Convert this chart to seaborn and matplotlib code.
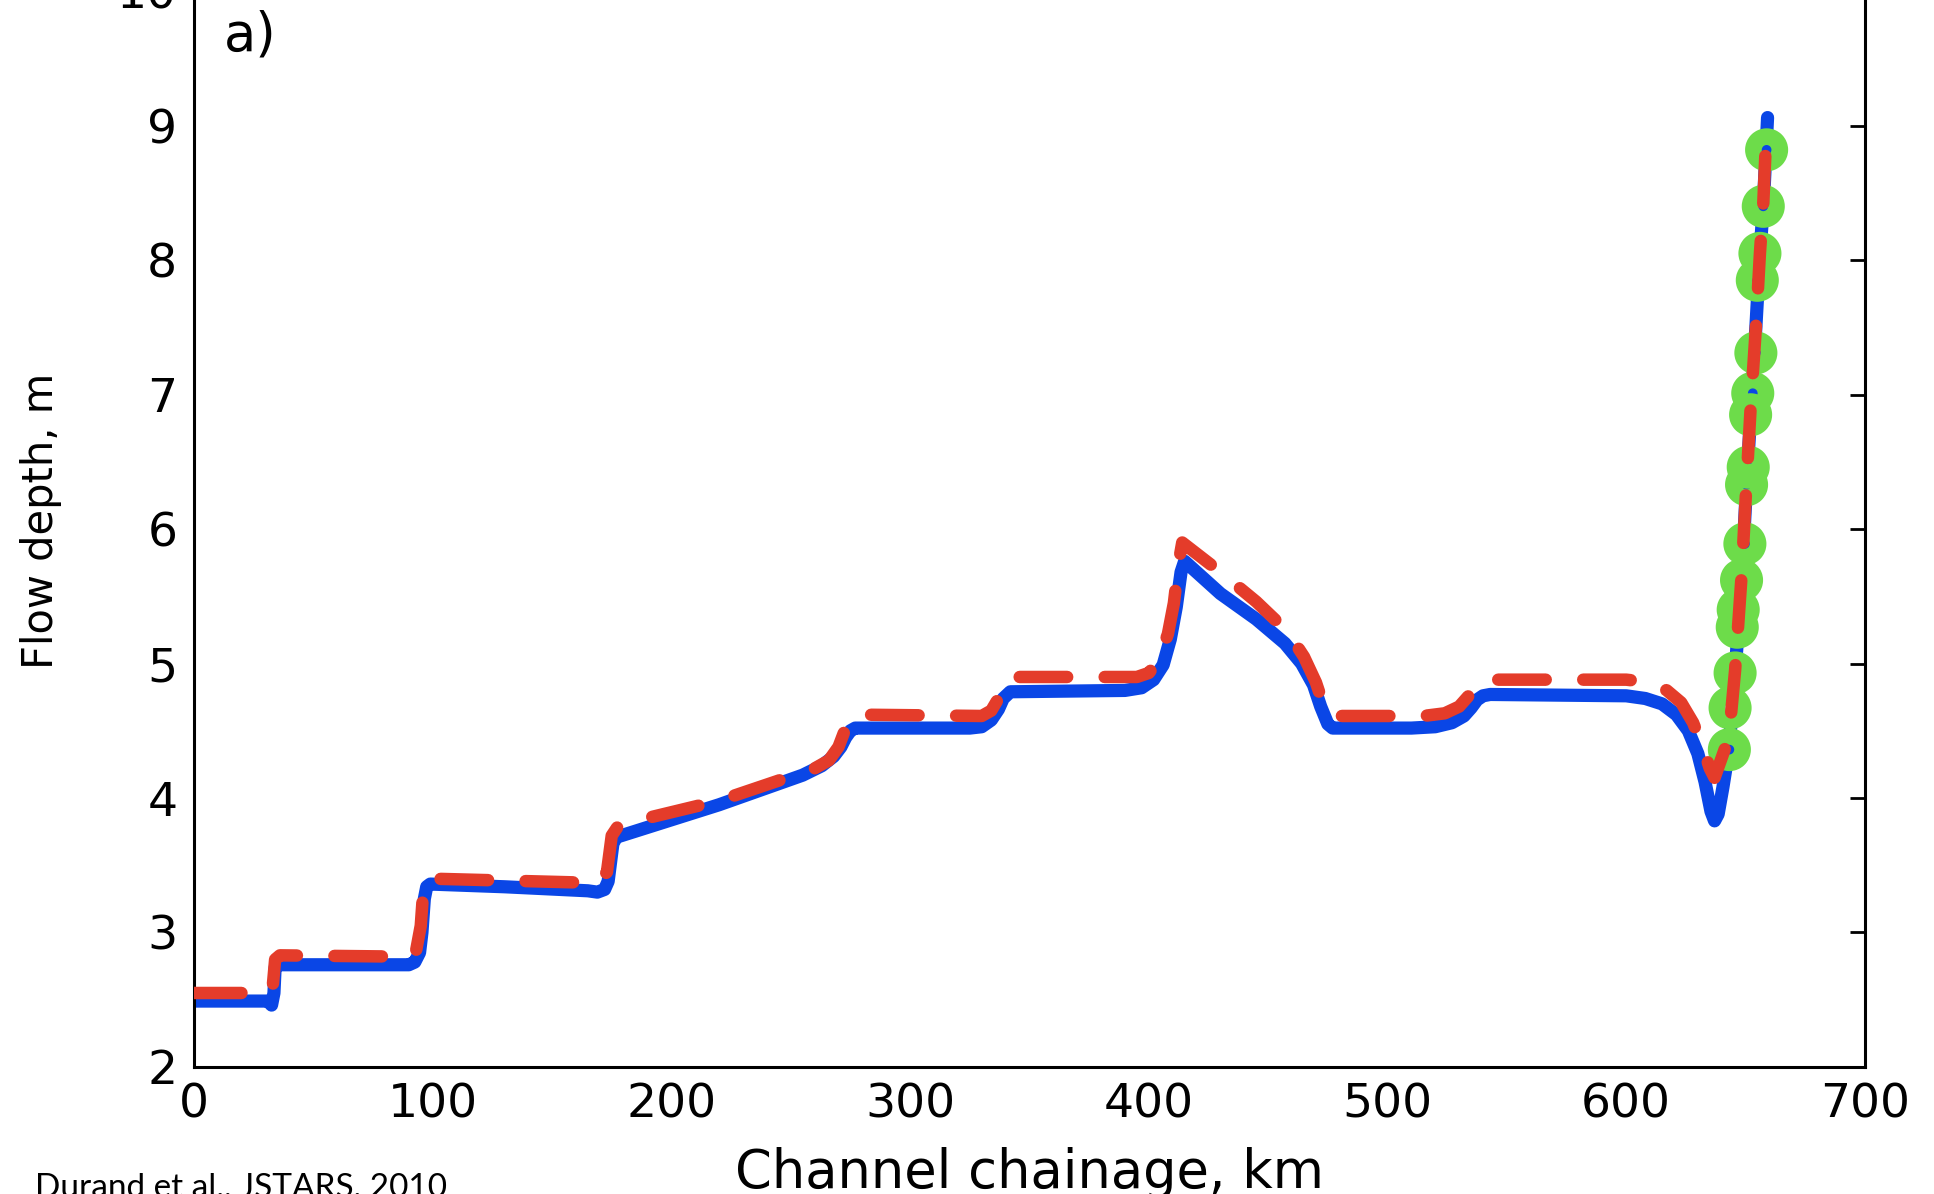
import numpy as np
import pandas as pd
import matplotlib
matplotlib.use("Agg")
import matplotlib.pyplot as plt
import seaborn as sns

# true flow depth profile (blue, solid)
dist_true = [0, 31, 32.5, 33.5, 34, 35, 90, 92.5, 94.5, 95.5, 96.5, 97.5, 99, 130, 165, 169, 172, 173.5, 174.5, 175.5, 177, 179,
             220, 255, 263, 268, 271, 273, 275, 277, 325, 330, 334, 337, 339, 342, 390, 397, 402, 406, 409, 411.5, 413.5, 415,
             430, 445, 457, 464, 469, 472, 475, 477, 510, 520, 527, 532, 535, 537.5, 540, 543, 600, 608, 615, 621, 626, 630,
             633, 635.5, 637, 638.5, 640.5, 643, 645.6, 648.3, 650.4, 652.1, 654.3, 656, 657.4, 659.2]
depth_true = [2.49, 2.49, 2.46, 2.55, 2.74, 2.76, 2.76, 2.78, 2.85, 3.0, 3.25, 3.34, 3.36, 3.34, 3.31, 3.30, 3.32, 3.38, 3.52, 3.66, 3.71, 3.72,
              3.95, 4.17, 4.24, 4.31, 4.38, 4.45, 4.50, 4.52, 4.52, 4.53, 4.58, 4.66, 4.74, 4.79, 4.80, 4.82, 4.88, 4.99, 5.18, 5.42, 5.68, 5.76,
              5.52, 5.33, 5.15, 5.00, 4.84, 4.68, 4.55, 4.52, 4.52, 4.53, 4.56, 4.61, 4.67, 4.73, 4.76, 4.77, 4.76, 4.74, 4.70, 4.62, 4.50, 4.33,
              4.12, 3.90, 3.83, 3.88, 4.08, 4.36, 4.93, 5.62, 6.33, 6.85, 7.50, 8.05, 8.40, 9.06]

# estimated flow depth (red, dashed)
dist_est = [0, 31, 33, 34, 36, 90, 93, 95, 96, 98, 100, 165, 170, 173, 175, 178, 220, 260, 266, 270, 273, 275, 278,
            330, 334, 337, 339, 342, 395, 400, 404, 408, 410.5, 412.5, 414, 430, 445, 458, 465, 470, 473, 475.5, 478, 515, 524, 530,
            534, 537, 541, 600, 610, 617, 623, 628, 632, 635, 637, 640, 643, 645.6, 648.3, 650.4, 652.1, 654.3, 656, 657.4, 658.8]
depth_est = [2.55, 2.55, 2.6, 2.80, 2.83, 2.82, 2.86, 3.05, 3.30, 3.40, 3.40, 3.37, 3.38, 3.45, 3.72, 3.80, 3.98, 4.22, 4.28, 4.38, 4.52, 4.59, 4.62,
             4.61, 4.65, 4.74, 4.84, 4.90, 4.90, 4.93, 5.02, 5.22, 5.45, 5.75, 5.90, 5.68, 5.46, 5.24, 5.05, 4.86, 4.70, 4.63, 4.61, 4.61, 4.63, 4.68,
             4.76, 4.84, 4.88, 4.88, 4.86, 4.80, 4.71, 4.56, 4.38, 4.22, 4.15, 4.30, 4.45, 4.95, 5.65, 6.35, 6.90, 7.50, 8.05, 8.42, 9.00]

# observations (green rings)
obs_dist = [658.8, 657.4, 656.0, 654.9, 654.3, 653.0, 652.1, 651.1, 650.4, 649.7, 648.3, 646.9, 646.5, 645.6, 643.5, 643.2]
obs_depth = [8.82, 8.40, 8.05, 7.85, 7.31, 7.01, 6.85, 6.46, 6.33, 5.89, 5.62, 5.40, 5.27, 4.93, 4.67, 4.36]

sns.set_style("white")
plt.rcParams['font.family'] = ['DejaVu Sans']
plt.rcParams['text.color'] = 'black'
plt.rcParams['axes.labelcolor'] = 'black'

fig = plt.figure(figsize=(19.34, 11.94), dpi=100)
ax = fig.add_axes([0.1003, 0.1064, 0.864, 0.901])

sns.lineplot(x=dist_true, y=depth_true, sort=False, estimator=None, ax=ax,
             color='#0a46e6', linewidth=9.5, solid_capstyle='round', solid_joinstyle='round', zorder=2)
sns.scatterplot(x=obs_dist, y=obs_depth, ax=ax, marker='o', s=19**2, fc='none',
                ec='#6ddc4a', linewidth=12, zorder=3)
sns.lineplot(x=dist_est, y=depth_est, sort=False, estimator=None, ax=ax,
             color='#e43c2a', linewidth=9, dashes=False, zorder=4)
ax.lines[-1].set_dashes((3.8, 3.0))
ax.lines[-1].set_dash_capstyle('round')
ax.lines[-1].set_dash_joinstyle('round')

ax.set_xlim(0, 700)
ax.set_ylim(2, 10)
ax.set_xticks(range(0, 701, 100))
ax.set_yticks(range(2, 11))

for s in ax.spines.values():
    s.set_linewidth(2.2)
    s.set_color('black')

ax.tick_params(axis='both', direction='in', length=11, width=2, colors='black',
               labelsize=34, pad=11)
ax.tick_params(axis='y', right=True, pad=12)
ax.tick_params(axis='x', top=False)

ax.set_ylabel('Flow depth, m', fontsize=30)
ax.yaxis.set_label_coords(-0.079, 0.508)
ax.set_xlabel('Channel chainage, km', fontsize=38)
ax.xaxis.label.set_va('baseline')
ax.xaxis.set_label_coords(0.5, -0.1125)

ax.text(0.018, 0.983, 'a)', transform=ax.transAxes, fontsize=38, va='top', ha='left')

fig.text(35 / 1934, -3 / 1194, 'Durand et al., JSTARS, 2010', fontsize=24,
         family=['Lato', 'DejaVu Sans'], va='baseline', ha='left')

fig.savefig('out.png', dpi=100)
